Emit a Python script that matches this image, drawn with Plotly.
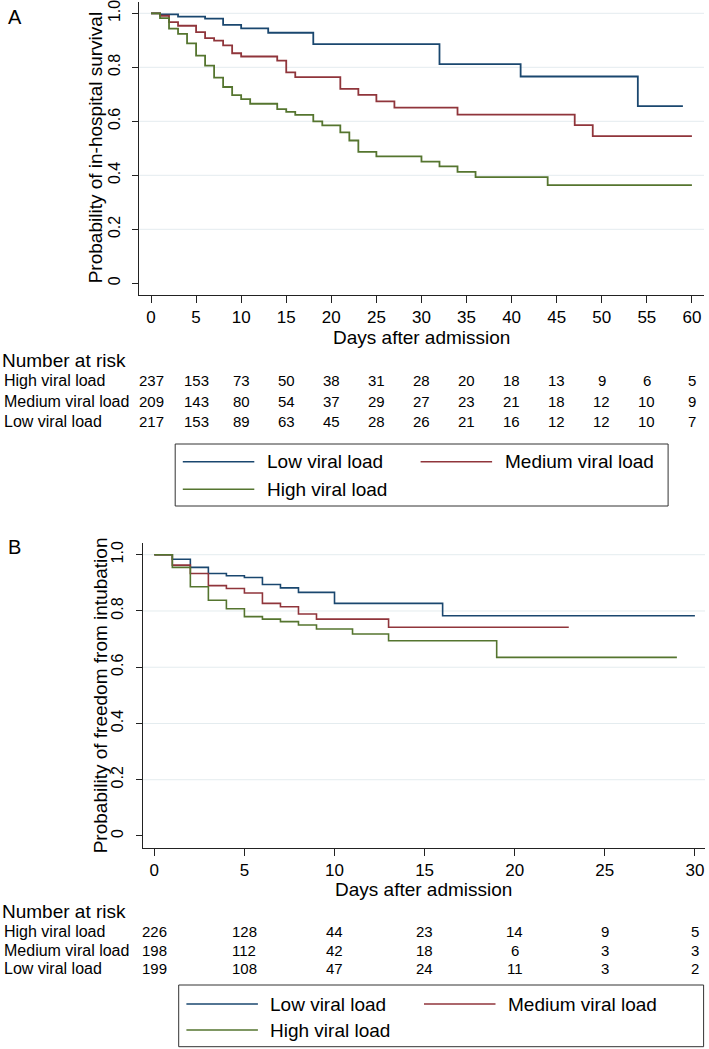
import plotly.graph_objects as go

W, H = 709, 1049
FONT = "Liberation Sans, Arial, Helvetica, sans-serif"

groups = ["Low viral load", "Medium viral load", "High viral load"]
colors = ["#1a476f", "#90353b", "#55752f"]

# ---------------- Panel A: in-hospital survival ----------------
a_low_t = [0, 1, 3, 6, 8, 10, 13, 18, 32, 41, 54, 59]
a_low_s = [1.0, 0.996, 0.988, 0.980, 0.957, 0.944, 0.928, 0.886, 0.812, 0.766, 0.656, 0.656]
a_med_t = [0, 1, 2, 3, 5, 6, 7, 8, 9, 10, 14, 15, 16, 21, 23, 25, 27, 34, 47, 49, 60]
a_med_s = [1.0, 0.991, 0.967, 0.954, 0.930, 0.908, 0.899, 0.881, 0.852, 0.840, 0.825,
           0.781, 0.764, 0.720, 0.698, 0.674, 0.651, 0.625, 0.586, 0.545, 0.545]
a_high_t = [0, 1, 2, 3, 4, 5, 6, 7, 8, 9, 10, 11, 14, 15, 16, 18, 19, 21, 22, 23, 25,
            30, 32, 34, 36, 44, 60]
a_high_s = [1.0, 0.982, 0.943, 0.924, 0.889, 0.843, 0.806, 0.762, 0.727, 0.697, 0.682,
            0.665, 0.645, 0.635, 0.624, 0.600, 0.585, 0.559, 0.529, 0.487, 0.470,
            0.451, 0.433, 0.413, 0.393, 0.364, 0.364]

a_risk_days = [0, 5, 10, 15, 20, 25, 30, 35, 40, 45, 50, 55, 60]
a_risk_high = [237, 153, 73, 50, 38, 31, 28, 20, 18, 13, 9, 6, 5]
a_risk_med = [209, 143, 80, 54, 37, 29, 27, 23, 21, 18, 12, 10, 9]
a_risk_low = [217, 153, 89, 63, 45, 28, 26, 21, 16, 12, 12, 10, 7]

# ---------------- Panel B: freedom from intubation ----------------
b_low_t = [0, 1, 2, 3, 4, 5, 6, 7, 8, 10, 16, 30]
b_low_s = [1.0, 0.984, 0.955, 0.933, 0.925, 0.919, 0.894, 0.882, 0.866, 0.827, 0.783, 0.783]
b_med_t = [0, 1, 2, 3, 4, 5, 6, 7, 8, 9, 13, 23]
b_med_s = [1.0, 0.963, 0.933, 0.890, 0.880, 0.864, 0.827, 0.815, 0.789, 0.771, 0.742, 0.742]
b_high_t = [0, 1, 2, 3, 4, 5, 6, 7, 8, 9, 11, 13, 19, 29]
b_high_s = [1.0, 0.955, 0.886, 0.838, 0.808, 0.780, 0.771, 0.762, 0.750, 0.736, 0.718,
            0.694, 0.635, 0.635]

b_risk_days = [0, 5, 10, 15, 20, 25, 30]
b_risk_high = [226, 128, 44, 23, 14, 9, 5]
b_risk_med = [198, 112, 42, 18, 6, 3, 3]
b_risk_low = [199, 108, 47, 24, 11, 3, 2]

risk_rows = ["High viral load", "Medium viral load", "Low viral load"]
y_tickvals = [0, 0.2, 0.4, 0.6, 0.8, 1.0]
y_ticktext = ["0", "0.2", "0.4", "0.6", "0.8", "1.0"]
grid_vals = [0.2, 0.4, 0.6, 0.8, 1.0]


def px(p):
    return p / W


def py(p):
    return 1 - p / H


fig = go.Figure()

panelA = [(a_low_t, a_low_s), (a_med_t, a_med_s), (a_high_t, a_high_s)]
panelB = [(b_low_t, b_low_s), (b_med_t, b_med_s), (b_high_t, b_high_s)]
for (t, s), name, c in zip(panelA, groups, colors):
    fig.add_trace(go.Scatter(x=t, y=s, mode="lines", line=dict(shape="hv", color=c, width=1.8),
                             name=name, showlegend=False, xaxis="x", yaxis="y"))
for (t, s), name, c in zip(panelB, groups, colors):
    fig.add_trace(go.Scatter(x=t, y=s, mode="lines", line=dict(shape="hv", color=c, width=1.6),
                             name=name, showlegend=False, xaxis="x2", yaxis="y2"))

axis_col = "#222222"
tickfont = dict(family=FONT, size=17, color="black")


def xaxis_cfg(dom, rng, vals, anchor):
    return dict(domain=dom, range=rng, tickvals=vals, ticks="outside", ticklen=7, tickwidth=1,
                tickcolor=axis_col, showline=True, linecolor=axis_col, linewidth=1,
                showgrid=False, zeroline=False, anchor=anchor, tickfont=tickfont,
                automargin=False, fixedrange=True, ticklabeloverflow="allow")


def yaxis_cfg(dom, rng, anchor):
    return dict(domain=dom, range=rng, tickvals=y_tickvals, ticktext=y_ticktext,
                tickangle=-90, ticks="outside", ticklen=6, tickwidth=1, tickcolor=axis_col,
                showline=True, linecolor=axis_col, linewidth=1, showgrid=False,
                zeroline=False, anchor=anchor, tickfont=dict(family=FONT, size=16, color="black"),
                automargin=False, fixedrange=True, ticklabelstandoff=6,
                ticklabeloverflow="allow")


fig.update_layout(
    width=W, height=H, margin=dict(l=0, r=0, t=0, b=0),
    paper_bgcolor="white", plot_bgcolor="white",
    font=dict(family=FONT, color="black"),
    xaxis=xaxis_cfg([px(139.3), px(704)], [-1.298, 61.34], a_risk_days, "y"),
    yaxis=yaxis_cfg([py(295), py(2)], [-0.0433, 1.0419], "x"),
    xaxis2=xaxis_cfg([px(142.7), px(705)], [-0.644, 30.56], b_risk_days, "y2"),
    yaxis2=yaxis_cfg([py(848), py(542.7)], [-0.0427, 1.0427], "x2"),
)

shapes = []
for v in grid_vals:
    for xr, yr in (("x domain", "y"), ("x2 domain", "y2")):
        shapes.append(dict(type="line", xref=xr, yref=yr, x0=0, x1=1, y0=v, y1=v,
                           line=dict(color="#e4ecef", width=1), layer="below"))

ann = []


def text(x, y, s, size, xref="paper", yref="paper", xanchor="left", angle=0):
    ann.append(dict(x=x, y=y, xref=xref, yref=yref, text=s, showarrow=False,
                    xanchor=xanchor, yanchor="middle", textangle=angle,
                    font=dict(family=FONT, size=size, color="black")))


# panel letters
text(px(6), py(17), "A", 20)
text(px(6), py(547), "B", 20)
# axis titles
text(0.5, py(337), "Days after admission", 19, xref="x domain", xanchor="center")
text(0.5, py(889), "Days after admission", 19, xref="x2 domain", xanchor="center")
text(px(95), py(148.3), "Probability of in-hospital survival", 19, xanchor="center", angle=-90)
text(px(100), py(695.3), "Probability of freedom from intubation", 19, xanchor="center", angle=-90)


# risk tables
def risk_table(y_head, ys, days, rows, xref, lab_x):
    text(px(0), py(y_head), "Number at risk", 19)
    for yy, label, vals in zip(ys, risk_rows, rows):
        text(px(lab_x), py(yy), label, 16)
        for d, v in zip(days, vals):
            text(d, py(yy), str(v), 15, xref=xref, xanchor="center")


risk_table(360, [380, 401, 421.5], a_risk_days, [a_risk_high, a_risk_med, a_risk_low], "x", 2)
risk_table(911.5, [931, 950, 968.5], b_risk_days, [b_risk_high, b_risk_med, b_risk_low], "x2", 2)


# legends (box + line keys + labels)
def legend_box(x0, x1, y0, y1, row1, row2, col1, col2):
    shapes.append(dict(type="rect", xref="paper", yref="paper", x0=px(x0), x1=px(x1),
                       y0=py(y1), y1=py(y0), line=dict(color="#333333", width=1),
                       fillcolor="white"))
    spots = [(col1, row1), (col2, row1), (col1, row2)]
    for (cx, ry), name, c in zip(spots, groups, colors):
        shapes.append(dict(type="line", xref="paper", yref="paper", x0=px(cx), x1=px(cx + 71.5),
                           y0=py(ry), y1=py(ry), line=dict(color=c, width=1.6)))
        text(px(cx + 82), py(ry), name, 19)


legend_box(175.2, 668.1, 444, 506, 461.7, 489.3, 182.8, 420.6)
legend_box(178.7, 703.6, 985, 1046.7, 1004, 1030, 186.4, 424)

fig.update_layout(shapes=shapes, annotations=ann)
fig.write_html("out.html", config={"displayModeBar": False, "staticPlot": True},
               post_script="document.body.style.margin='0';document.body.style.overflow='hidden';")
